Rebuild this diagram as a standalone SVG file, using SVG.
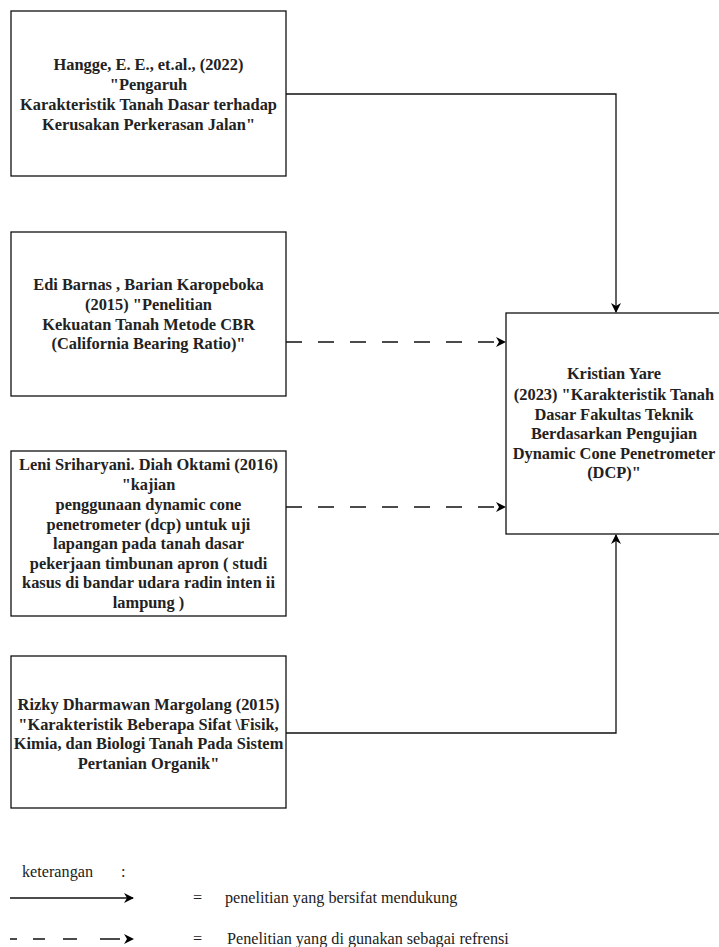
<svg xmlns="http://www.w3.org/2000/svg" width="719" height="947" viewBox="0 0 719 947">
<style>
.box{fill:#fff;stroke:#111;stroke-width:1.3}
.t{font-family:"Liberation Serif",serif;font-weight:bold;font-size:16.4px;fill:#222;text-anchor:middle}
.lg{font-family:"Liberation Serif",serif;font-size:16.2px;fill:#222}
.c{fill:none;stroke:#111;stroke-width:1.3}
.d{stroke-dasharray:16 16}
</style>
<defs>
<marker id="ah" viewBox="0 0 10 10" refX="9" refY="5" markerWidth="10" markerHeight="10" markerUnits="userSpaceOnUse" orient="auto">
<path d="M0,0 L10,5 L0,10 L3,5 Z" fill="#000"/>
</marker>
</defs>
<g id="connectors">
<path class="c" d="M286,94 H616 V312" marker-end="url(#ah)"/>
<path class="c d" d="M286,342 H505" marker-end="url(#ah)"/>
<path class="c d" d="M286,507 H505" marker-end="url(#ah)"/>
<path class="c" d="M286,733 H616 V535" marker-end="url(#ah)"/>
</g>
<g id="n1">
<rect class="box" x="11" y="11" width="275" height="165"/>
<text class="t"><tspan x="148.5" y="70">Hangge, E. E., et.al., (2022)</tspan><tspan x="148.5" y="90">"Pengaruh</tspan><tspan x="148.5" y="110">Karakteristik Tanah Dasar terhadap</tspan><tspan x="148.5" y="130">Kerusakan Perkerasan Jalan"</tspan></text>
</g>
<g id="n2">
<rect class="box" x="11" y="232" width="275" height="164"/>
<text class="t"><tspan x="148.5" y="290">Edi Barnas , Barian Karopeboka</tspan><tspan x="148.5" y="310">(2015) "Penelitian</tspan><tspan x="148.5" y="330">Kekuatan Tanah Metode CBR</tspan><tspan x="148.5" y="349">(California Bearing Ratio)"</tspan></text>
</g>
<g id="n3">
<rect class="box" x="11" y="451" width="275" height="165"/>
<text class="t"><tspan x="148.5" y="470">Leni Sriharyani. Diah Oktami (2016)</tspan><tspan x="148.5" y="490">"kajian</tspan><tspan x="148.5" y="510">penggunaan dynamic cone</tspan><tspan x="148.5" y="530">penetrometer (dcp) untuk uji</tspan><tspan x="148.5" y="549">lapangan pada tanah dasar</tspan><tspan x="148.5" y="569">pekerjaan timbunan apron ( studi</tspan><tspan x="148.5" y="588">kasus di bandar udara radin inten ii</tspan><tspan x="148.5" y="608">lampung )</tspan></text>
</g>
<g id="n4">
<rect class="box" x="11" y="656" width="275" height="152"/>
<text class="t"><tspan x="148.5" y="710">Rizky Dharmawan Margolang (2015)</tspan><tspan x="148.5" y="730">"Karakteristik Beberapa Sifat \Fisik,</tspan><tspan x="148.5" y="749">Kimia, dan Biologi Tanah Pada Sistem</tspan><tspan x="148.5" y="769">Pertanian Organik"</tspan></text>
</g>
<g id="n5">
<rect class="box" x="506" y="313" width="214" height="221"/>
<text class="t"><tspan x="614" y="379">Kristian Yare</tspan><tspan x="614" y="400">(2023) "Karakteristik Tanah</tspan><tspan x="614" y="420">Dasar Fakultas Teknik</tspan><tspan x="614" y="439">Berdasarkan Pengujian</tspan><tspan x="614" y="459">Dynamic Cone Penetrometer</tspan><tspan x="614" y="478">(DCP)"</tspan></text>
</g>
<g id="legend">
<text class="lg" x="22" y="877">keterangan</text>
<text class="lg" x="121" y="877">:</text>
<path class="c" d="M10,898 H133" marker-end="url(#ah)"/>
<path class="c" d="M10,939 H133" style="stroke-dasharray:7 16 12 18 14 23 20 40" marker-end="url(#ah)"/>
<text class="lg" x="193" y="903">=</text>
<text class="lg" x="225" y="903">penelitian yang bersifat mendukung</text>
<text class="lg" x="193" y="944">=</text>
<text class="lg" x="227" y="944">Penelitian yang di gunakan sebagai refrensi</text>
</g>
</svg>
